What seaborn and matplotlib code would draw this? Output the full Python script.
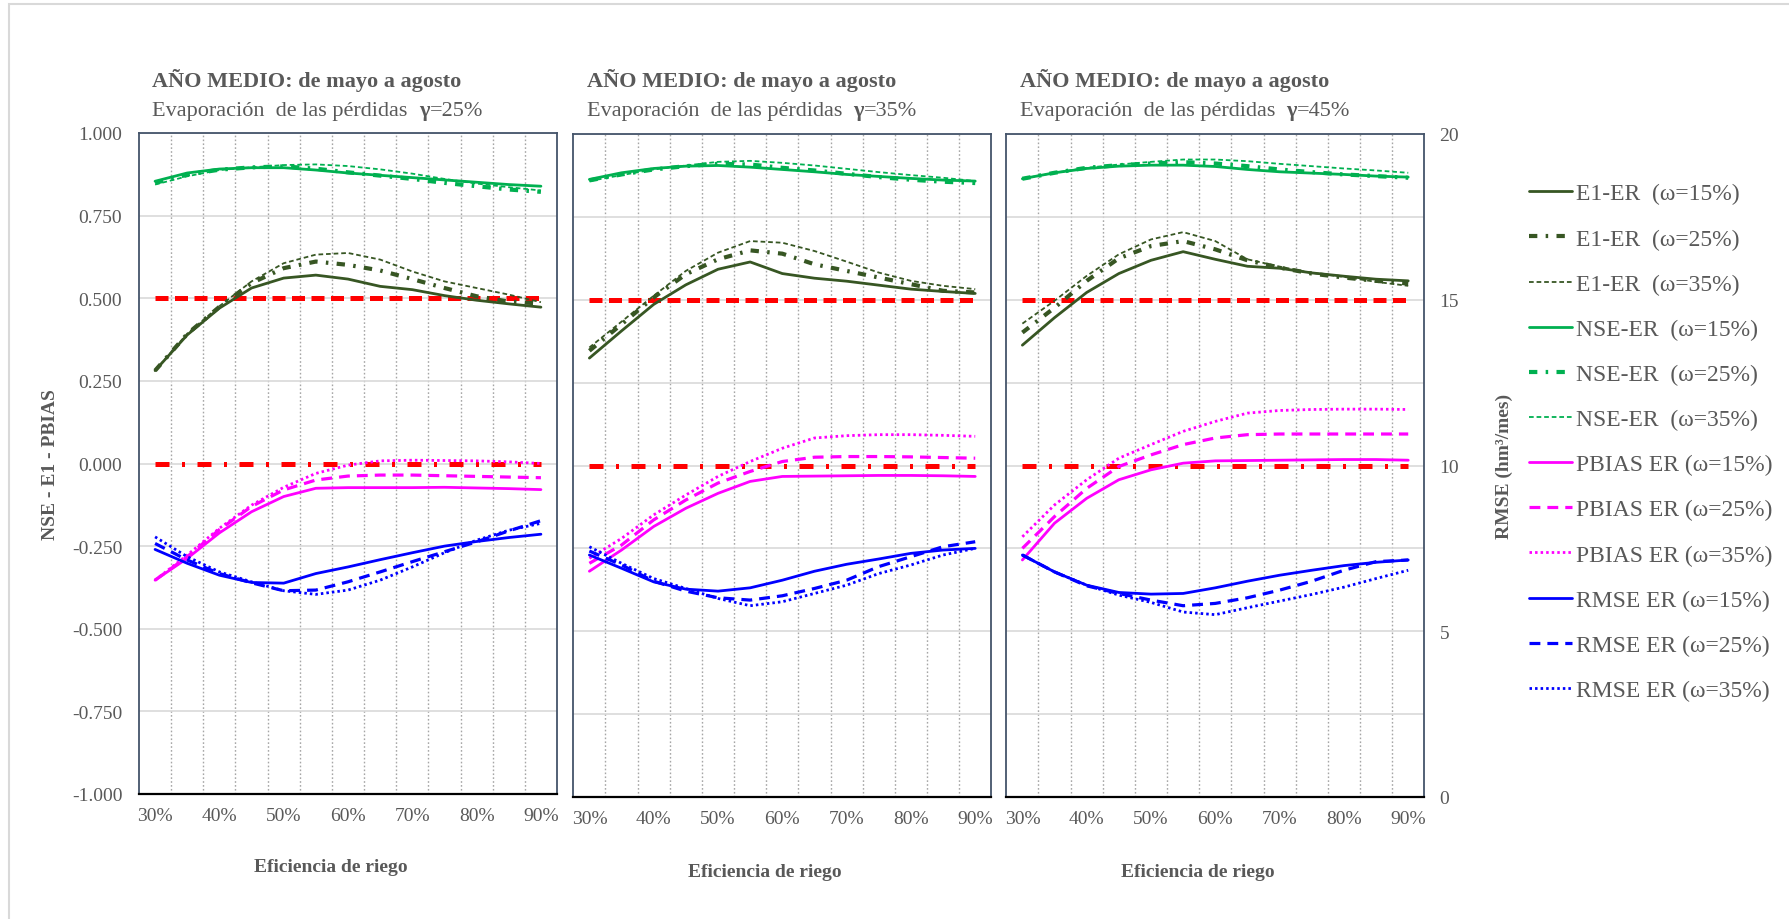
import numpy as np
import matplotlib
matplotlib.use("Agg")
import matplotlib.pyplot as plt
import seaborn as sns
from matplotlib.patches import Rectangle

# ---------------- data ----------------
eficiencia = [30, 35, 40, 45, 50, 55, 60, 65, 70, 75, 80, 85, 90]
x_labels = ["30%", "40%", "50%", "60%", "70%", "80%", "90%"]
gammas = [25, 35, 45]
omegas = [15, 25, 35]
umbral_e1_nse = [0.5] * 13
umbral_pbias = [0.0] * 13

# gamma = 25 %
e1_g25_w15 = [0.281, 0.389, 0.470, 0.531, 0.561, 0.570, 0.558, 0.536, 0.526, 0.508, 0.494, 0.483, 0.473]
e1_g25_w25 = [0.281, 0.392, 0.474, 0.546, 0.591, 0.611, 0.601, 0.584, 0.558, 0.531, 0.506, 0.490, 0.484]
e1_g25_w35 = [0.281, 0.393, 0.476, 0.551, 0.606, 0.632, 0.637, 0.617, 0.581, 0.551, 0.531, 0.511, 0.488]
nse_g25_w15 = [0.854, 0.879, 0.891, 0.895, 0.895, 0.888, 0.879, 0.872, 0.865, 0.858, 0.851, 0.844, 0.839]
nse_g25_w25 = [0.849, 0.874, 0.889, 0.896, 0.899, 0.892, 0.881, 0.871, 0.861, 0.849, 0.839, 0.829, 0.822]
nse_g25_w35 = [0.844, 0.869, 0.888, 0.896, 0.903, 0.905, 0.900, 0.890, 0.877, 0.861, 0.847, 0.836, 0.826]
pbias_g25_w15 = [-0.353, -0.287, -0.210, -0.146, -0.100, -0.075, -0.073, -0.073, -0.073, -0.072, -0.074, -0.076, -0.079]
pbias_g25_w25 = [-0.353, -0.282, -0.200, -0.130, -0.080, -0.050, -0.038, -0.035, -0.035, -0.037, -0.039, -0.041, -0.043]
pbias_g25_w35 = [-0.353, -0.277, -0.196, -0.126, -0.072, -0.030, -0.005, 0.008, 0.010, 0.009, 0.008, 0.005, 0.000]
rmse_g25_w15 = [7.40, 6.98, 6.62, 6.40, 6.38, 6.67, 6.87, 7.09, 7.30, 7.50, 7.64, 7.76, 7.86]
rmse_g25_w25 = [7.58, 7.08, 6.67, 6.39, 6.15, 6.17, 6.42, 6.72, 7.03, 7.33, 7.63, 7.96, 8.27]
rmse_g25_w35 = [7.78, 7.18, 6.72, 6.42, 6.15, 6.04, 6.17, 6.47, 6.87, 7.30, 7.68, 7.98, 8.19]

# gamma = 35 %
e1_g35_w15 = [0.324, 0.406, 0.486, 0.545, 0.592, 0.614, 0.579, 0.565, 0.556, 0.544, 0.532, 0.525, 0.519]
e1_g35_w25 = [0.346, 0.426, 0.507, 0.577, 0.622, 0.649, 0.639, 0.607, 0.587, 0.567, 0.547, 0.527, 0.522]
e1_g35_w35 = [0.356, 0.434, 0.512, 0.587, 0.642, 0.677, 0.672, 0.647, 0.615, 0.582, 0.557, 0.542, 0.532]
nse_g35_w15 = [0.863, 0.883, 0.896, 0.903, 0.905, 0.900, 0.893, 0.886, 0.878, 0.872, 0.866, 0.861, 0.858]
nse_g35_w25 = [0.860, 0.878, 0.893, 0.903, 0.910, 0.908, 0.898, 0.890, 0.880, 0.870, 0.862, 0.856, 0.852]
nse_g35_w35 = [0.858, 0.876, 0.893, 0.905, 0.916, 0.919, 0.913, 0.905, 0.895, 0.885, 0.876, 0.868, 0.858]
pbias_g35_w15 = [-0.319, -0.255, -0.184, -0.129, -0.084, -0.048, -0.033, -0.032, -0.031, -0.030, -0.030, -0.031, -0.033]
pbias_g35_w25 = [-0.295, -0.240, -0.164, -0.104, -0.053, -0.018, 0.012, 0.025, 0.027, 0.027, 0.026, 0.024, 0.022]
pbias_g35_w35 = [-0.280, -0.220, -0.149, -0.089, -0.033, 0.012, 0.052, 0.083, 0.090, 0.093, 0.093, 0.091, 0.088]
rmse_g35_w15 = [7.30, 6.90, 6.49, 6.27, 6.21, 6.31, 6.54, 6.81, 7.02, 7.18, 7.35, 7.45, 7.50]
rmse_g35_w25 = [7.42, 7.00, 6.51, 6.21, 6.01, 5.94, 6.07, 6.29, 6.54, 6.95, 7.25, 7.55, 7.70]
rmse_g35_w35 = [7.55, 7.05, 6.59, 6.29, 5.99, 5.77, 5.89, 6.14, 6.39, 6.74, 7.00, 7.30, 7.50]

# gamma = 45 %
e1_g45_w15 = [0.363, 0.446, 0.522, 0.579, 0.619, 0.645, 0.622, 0.601, 0.595, 0.581, 0.571, 0.562, 0.557]
e1_g45_w25 = [0.401, 0.476, 0.557, 0.625, 0.662, 0.677, 0.652, 0.619, 0.597, 0.579, 0.567, 0.557, 0.549]
e1_g45_w35 = [0.428, 0.497, 0.572, 0.637, 0.682, 0.704, 0.677, 0.622, 0.600, 0.581, 0.569, 0.554, 0.542]
nse_g45_w15 = [0.865, 0.883, 0.896, 0.903, 0.906, 0.906, 0.902, 0.893, 0.886, 0.882, 0.878, 0.873, 0.870]
nse_g45_w25 = [0.865, 0.883, 0.898, 0.906, 0.911, 0.915, 0.911, 0.903, 0.893, 0.885, 0.878, 0.873, 0.868]
nse_g45_w35 = [0.865, 0.883, 0.898, 0.908, 0.916, 0.923, 0.923, 0.918, 0.910, 0.903, 0.896, 0.890, 0.883]
pbias_g45_w15 = [-0.285, -0.174, -0.099, -0.043, -0.013, 0.007, 0.014, 0.015, 0.016, 0.017, 0.018, 0.018, 0.016]
pbias_g45_w25 = [-0.250, -0.154, -0.069, -0.003, 0.032, 0.063, 0.083, 0.093, 0.095, 0.095, 0.095, 0.095, 0.095]
pbias_g45_w35 = [-0.215, -0.119, -0.043, 0.022, 0.063, 0.103, 0.133, 0.158, 0.166, 0.169, 0.170, 0.170, 0.169]
rmse_g45_w15 = [7.30, 6.79, 6.39, 6.17, 6.12, 6.14, 6.31, 6.51, 6.69, 6.84, 6.98, 7.08, 7.15]
rmse_g45_w25 = [7.30, 6.79, 6.37, 6.14, 5.94, 5.77, 5.84, 6.01, 6.24, 6.51, 6.84, 7.10, 7.15]
rmse_g45_w35 = [7.30, 6.79, 6.39, 6.09, 5.87, 5.58, 5.50, 5.71, 5.91, 6.11, 6.33, 6.59, 6.84]

panels = [
    (25, [e1_g25_w15, e1_g25_w25, e1_g25_w35], [nse_g25_w15, nse_g25_w25, nse_g25_w35],
     [pbias_g25_w15, pbias_g25_w25, pbias_g25_w35], [rmse_g25_w15, rmse_g25_w25, rmse_g25_w35]),
    (35, [e1_g35_w15, e1_g35_w25, e1_g35_w35], [nse_g35_w15, nse_g35_w25, nse_g35_w35],
     [pbias_g35_w15, pbias_g35_w25, pbias_g35_w35], [rmse_g35_w15, rmse_g35_w25, rmse_g35_w35]),
    (45, [e1_g45_w15, e1_g45_w25, e1_g45_w35], [nse_g45_w15, nse_g45_w25, nse_g45_w35],
     [pbias_g45_w15, pbias_g45_w25, pbias_g45_w35], [rmse_g45_w15, rmse_g45_w25, rmse_g45_w35]),
]

# ---------------- style ----------------
sns.set_style("white")
plt.rcParams['font.family'] = ['Liberation Serif', 'DejaVu Serif']
plt.rcParams['axes.unicode_minus'] = False
GRAY = '#595959'
C_E1 = '#375623'
C_NSE = '#00B050'
C_PB = '#FF00FF'
C_RM = '#0000FF'
C_RED = '#FF0000'

# (linewidth, linestyle) per omega
style_e1nse = [(2.0, '-'), (3.0, (0, (2.0, 2.0, 0.6, 2.0))), (1.3, (0, (2.6, 1.6)))]
style_pbrm = [(2.0, '-'), (2.3, (0, (3.4, 2.2))), (2.0, (0, (0.9, 1.1)))]

W, H = 1789, 920
fig = plt.figure(figsize=(W / 100, H / 100), dpi=100)
fig.patches.append(Rectangle((9 / W, -0.02), 1.05, 1 - 5 / H + 0.02, transform=fig.transFigure,
                             fill=False, edgecolor='#D9D9D9', lw=1.5, zorder=0))

geom = [(139, 134, 795), (573.3, 135, 798), (1006.3, 135, 798)]
PW = 418
legend_handles = []
legend_labels = []

for k, (gamma, e1s, nses, pbs, rms) in enumerate(panels):
    left, top, bottom = geom[k]
    ax = fig.add_axes([left / W, 1 - bottom / H, PW / W, (bottom - top) / H])
    ax.set_xlim(27.5, 92.5)
    ax.set_ylim(-1, 1)
    ax.set_yticks(np.arange(-1, 1.001, 0.25))
    ax.set_yticklabels([f"{v:.3f}" for v in np.arange(-1, 1.001, 0.25)])
    ax.yaxis.grid(True, color='#D9D9D9', lw=1.2)
    ax.xaxis.grid(False)
    ax.set_axisbelow(True)
    ax.vlines(np.arange(32.5, 90, 5), -1, 1, colors='#A6A6A6',
              linestyles=(0, (1.2, 1.6)), lw=1.0, zorder=0.5)

    ax.set_xticks(eficiencia[::2])
    ax.set_xticklabels(x_labels)
    ax.set_xticks(np.arange(27.5, 90, 10), minor=True)
    ax.tick_params(axis='x', which='major', length=0, pad=9.5, labelsize=14, labelcolor=GRAY)
    ax.tick_params(axis='x', which='minor', length=5, width=1.2, color='black', direction='out')
    ax.tick_params(axis='y', length=0, pad=12, labelsize=14, labelcolor=GRAY, labelleft=(k == 0))

    for s in ax.spines.values():
        s.set_color('#44546A')
        s.set_linewidth(1.3)
    ax.spines['bottom'].set_color('black')
    ax.spines['bottom'].set_linewidth(1.6)

    # reference thresholds
    sns.lineplot(x=eficiencia, y=umbral_e1_nse, ax=ax, color=C_RED, lw=3.6,
                 linestyle=(0, (2.6, 1.3)), legend=False)
    sns.lineplot(x=eficiencia, y=umbral_pbias, ax=ax, color=C_RED, lw=3.6,
                 linestyle=(0, (2.8, 2.5, 0.6, 2.5)), legend=False)

    ax2 = ax.twinx()
    ax2.set_ylim(0, 20)
    ax2.set_yticks(range(0, 21, 5))
    ax2.tick_params(axis='y', length=0, pad=11, labelsize=14, labelcolor=GRAY, labelright=(k == 2))
    for s in ax2.spines.values():
        s.set_visible(False)

    groups = [("E1-ER  (ω={}%)", e1s, C_E1, style_e1nse, ax),
              ("NSE-ER  (ω={}%)", nses, C_NSE, style_e1nse, ax),
              ("PBIAS ER (ω={}%)", pbs, C_PB, style_pbrm, ax),
              ("RMSE ER (ω={}%)", rms, C_RM, style_pbrm, ax2)]
    for lab, series, col, styles, a in groups:
        for w, vals, (lw, ls) in zip(omegas, series, styles):
            sns.lineplot(x=eficiencia, y=vals, ax=a, color=col, lw=lw, linestyle=ls, legend=False)
            line = a.lines[-1]
            if k == 0:
                legend_handles.append(line)
                legend_labels.append(lab.format(w))
    ax2.set_ylabel("")
    ax.set_ylabel("")
    ax.set_xlabel("")

    # titles
    tx = (left + 13.5) / W
    fig.text(tx, 1 - 87 / H, "AÑO MEDIO: de mayo a agosto", fontsize=16, fontweight='bold',
             color=GRAY, va='baseline', ha='left')
    t2a = fig.text(tx, 1 - 116 / H, "Evaporación  de las pérdidas  ", fontsize=16,
                   color=GRAY, va='baseline', ha='left')
    g = ax2.annotate("γ", xy=(1, 0), xycoords=t2a, va='bottom', ha='left',
                     fontsize=16, fontweight='bold', color=GRAY, annotation_clip=False)
    ax2.annotate(f"={gamma}%", xy=(1, 0), xycoords=g, va='bottom', ha='left',
                 fontsize=16, color=GRAY, annotation_clip=False)

    # x label
    fig.text((left + PW / 2 - 17) / W, 1 - (872 if k == 0 else 877) / H, "Eficiencia de riego",
             fontsize=14, fontweight='bold', color=GRAY, ha='center', va='baseline')

fig.text(51 / W, 1 - 465 / H, "NSE - E1 - PBIAS", rotation=90, fontsize=14, fontweight='bold',
         color=GRAY, ha='center', va='center')
fig.text(1504 / W, 1 - 466 / H, "RMSE (hm³/mes)", rotation=90, fontsize=14, fontweight='bold',
         color=GRAY, ha='center', va='center')

fig.legend(legend_handles, legend_labels, loc='upper left', bbox_to_anchor=(1529 / W, 1 - 184 / H),
           frameon=False, fontsize=17, handlelength=1.8, handletextpad=0.2, labelspacing=1.0,
           borderpad=0, borderaxespad=0, labelcolor=GRAY)

fig.savefig("out.png", dpi=100)
